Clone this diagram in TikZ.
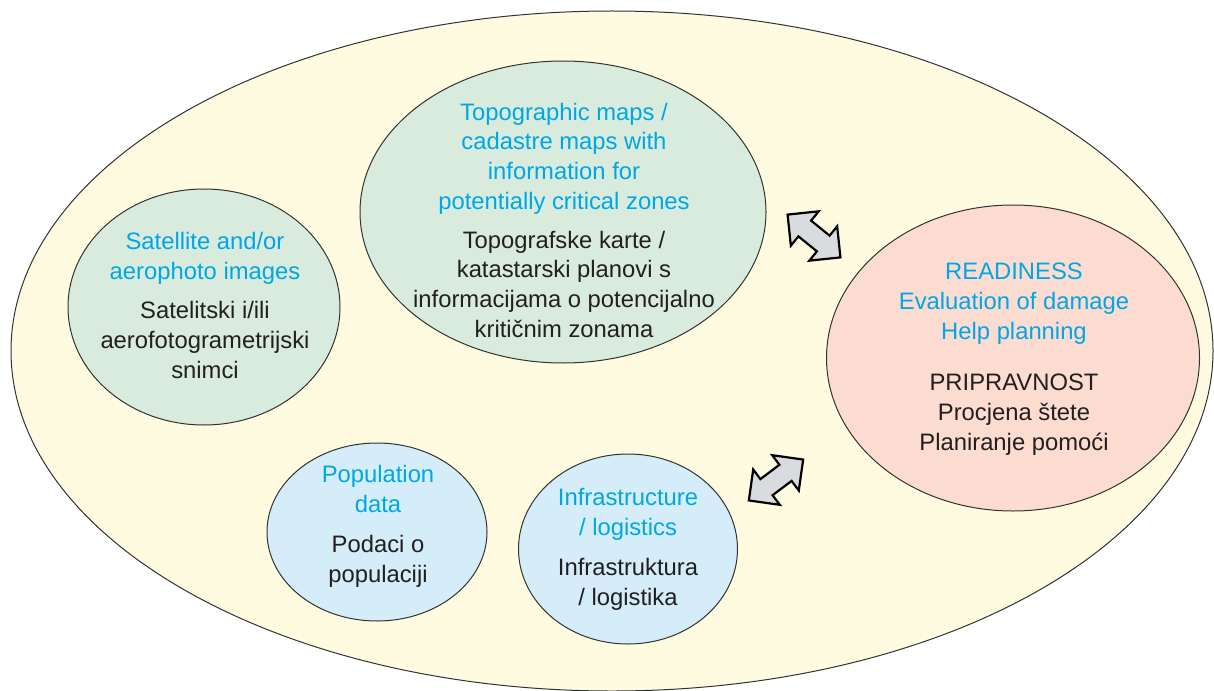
\documentclass[tikz,border=0pt]{standalone}
\usepackage{fontspec}
\setmainfont{Liberation Sans}
\usetikzlibrary{shapes.geometric}
\usetikzlibrary{shapes.arrows}

\definecolor{zonebg}{RGB}{255,251,224}
\definecolor{mapgreen}{RGB}{216,235,221}
\definecolor{datablue}{RGB}{212,237,249}
\definecolor{readypink}{RGB}{252,220,208}
\definecolor{engblue}{RGB}{0,167,230}
\definecolor{txtblack}{RGB}{35,31,32}
\definecolor{arrowgray}{RGB}{218,219,223}

\tikzset{
  zone/.style={ellipse,draw=black!80,line width=0.5pt,inner sep=0pt},
  eng/.style={align=center,text=engblue,inner sep=0pt,anchor=base,
    font=\fontsize{11.9}{14.8}\selectfont},
  loc/.style={align=center,text=txtblack,inner sep=0pt,anchor=base,
    font=\fontsize{11.9}{14.8}\selectfont},
  link/.style={double arrow,draw=black,line width=1.1pt,fill=arrowgray,
    inner xsep=0pt,inner ysep=4.5pt,double arrow head extend=6pt,
    minimum height=34pt}
}

\begin{document}
\begin{tikzpicture}[x=0.5pt,y=-0.5pt]
        \useasboundingbox (0,0) rectangle (1214,690);
        % zones
        \node[zone,fill=zonebg,minimum width=601pt,minimum height=340pt] (outer) at (612,351) {};
        \node[zone,fill=mapgreen,minimum width=136pt,minimum height=118pt] (sat) at (204,307) {};
        \node[zone,fill=mapgreen,minimum width=203pt,minimum height=151pt] (topo) at (563,212) {};
        \node[zone,fill=datablue,minimum width=110pt,minimum height=89pt] (pop) at (377,532) {};
        \node[zone,fill=datablue,minimum width=109.5pt,minimum height=95pt] (infra) at (628,549) {};
        \node[zone,fill=readypink,minimum width=186.5pt,minimum height=153pt] (ready) at (1013,358) {};
        % texts (base = last line)
        \node[eng] (sat-en) at (205,279) {Satellite and/or\\aerophoto images};
        \node[loc] (sat-hr) at (205,378) {Satelitski i/ili\\aerofotogrametrijski\\snimci};
        \node[eng] (topo-en) at (564,209) {Topographic maps /\\cadastre maps with\\information for\\potentially critical zones};
        \node[loc] (topo-hr) at (564,337) {Topografske karte /\\katastarski planovi s\\informacijama o potencijalno\\kritičnim zonama};
        \node[eng] (pop-en) at (378,512) {Population\\data};
        \node[loc] (pop-hr) at (378,582) {Podaci o\\populaciji};
        \node[eng] (infra-en) at (628,535) {Infrastructure\\/ logistics};
        \node[loc] (infra-hr) at (628,605) {Infrastruktura\\/ logistika};
        \node[eng] (ready-en) at (1014,339) {READINESS\\Evaluation of damage\\Help planning};
        \node[loc] (ready-hr) at (1014,450) {PRIPRAVNOST\\Procjena štete\\Planiranje pomoći};
        % arrows
        \node[link,rotate=-39] (topo-ready) at (814,236) {};
        \node[link,rotate=37] (infra-ready) at (776,480) {};
\end{tikzpicture}
\end{document}
